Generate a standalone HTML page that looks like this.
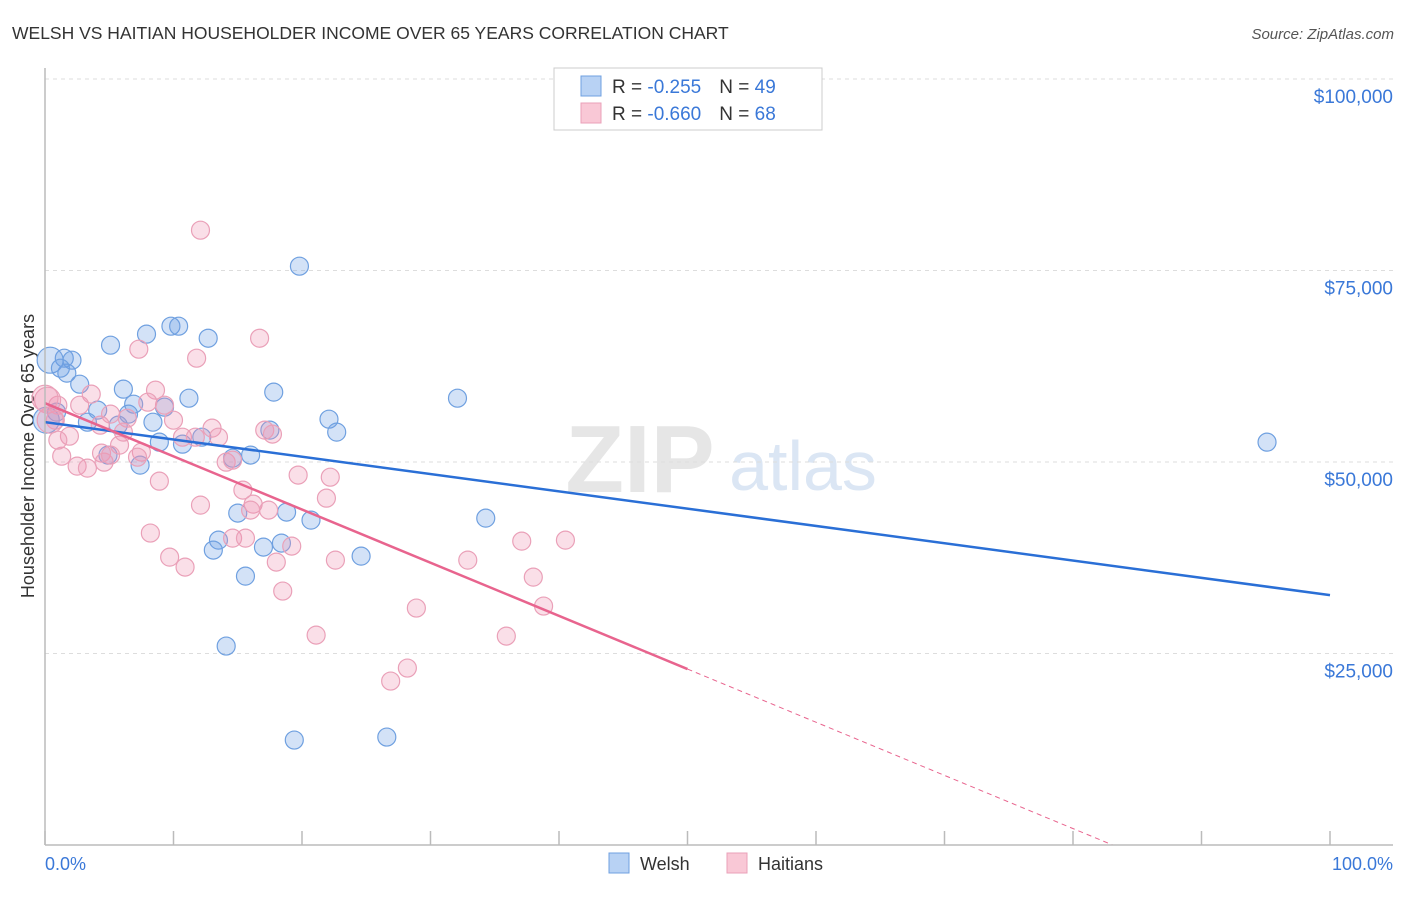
<!DOCTYPE html>
<html><head><meta charset="utf-8"><style>
body{margin:0;background:#fff;font-family:"Liberation Sans",sans-serif;}
svg text{font-family:"Liberation Sans",sans-serif;}
</style></head><body>
<svg id="c" width="1406" height="892">
<text x="12" y="39" font-size="17.5" fill="#333">WELSH VS HAITIAN HOUSEHOLDER INCOME OVER 65 YEARS CORRELATION CHART</text>
<text x="1394" y="39" font-size="15" fill="#555" font-style="italic" text-anchor="end">Source: ZipAtlas.com</text>
<text x="640" y="492" font-size="96" fill="#e6e6e6" font-family="Liberation Serif" font-weight="bold" text-anchor="middle">ZIP</text>
<text x="803" y="490" font-size="70" fill="#dbe6f4" text-anchor="middle">atlas</text>
<text transform="translate(34,456) rotate(-90)" font-size="18" fill="#333" text-anchor="middle">Householder Income Over 65 years</text>
<g id="grid"></g><g id="pts"></g><g id="trend"></g>
<line x1="45" y1="68" x2="45" y2="845" stroke="#bbb" stroke-width="1.5"/>
<line x1="45" y1="845" x2="1393" y2="845" stroke="#bbb" stroke-width="1.5"/>
<text x="45" y="870" font-size="18" fill="#3a78d8">0.0%</text>
<text x="1393" y="870" font-size="18" fill="#3a78d8" text-anchor="end">100.0%</text>
<g>
<rect x="554" y="68" width="268" height="62" fill="#fff" stroke="#ccc"/>
<rect x="581" y="76" width="20" height="20" fill="#b8d2f4" stroke="#6fa0e0"/>
<rect x="581" y="103" width="20" height="20" fill="#f9c8d6" stroke="#eaa0b8"/>
<text x="612" y="93" font-size="19" fill="#333">R = <tspan fill="#3a78d8">-0.255</tspan><tspan dx="18">N = </tspan><tspan fill="#3a78d8">49</tspan></text>
<text x="612" y="120" font-size="19" fill="#333">R = <tspan fill="#3a78d8">-0.660</tspan><tspan dx="18">N = </tspan><tspan fill="#3a78d8">68</tspan></text>
</g>
<g>
<rect x="609" y="853" width="20" height="20" fill="#b8d2f4" stroke="#6fa0e0"/>
<text x="640" y="870" font-size="18" fill="#333">Welsh</text>
<rect x="727" y="853" width="20" height="20" fill="#f9c8d6" stroke="#eaa0b8"/>
<text x="758" y="870" font-size="18" fill="#333">Haitians</text>
</g>
</svg>
<script>
const yTicks=[25000,50000,75000,100000];
const yTickLabels=["$25,000","$50,000","$75,000","$100,000"];
const welshX=[19.8,9.8,10.4,7.9,12.7,5.1,1.5,2.1,1.7,2.7,6.1,17.8,11.2,32.1,6.9,4.1,9.3,0.9,6.5,22.1,8.4,3.3,5.7,17.5,22.7,0.1,8.9,10.7,12.2,4.9,14.6,16.0,7.4,95.1,34.3,15.0,18.8,20.7,13.5,18.4,17.0,13.1,24.6,15.6,14.1,19.4,26.6,0.4,1.2];
const welshY=[75560,67730,67730,66690,66160,65250,63550,63290,61600,60160,59510,59120,58330,58330,57550,56770,57160,56510,56250,55590,55200,55200,54810,54160,53900,55460,52590,52330,53240,50900,50500,50900,49590,52590,42670,43330,43460,42410,39800,39410,38890,38500,37710,35100,25970,13700,14090,63290,62250];
const haitiX=[12.1,16.7,7.3,11.8,8.6,3.6,2.7,1.0,0.2,9.3,8.0,5.1,6.4,10.0,13.0,0.8,1.9,10.7,13.5,17.1,17.7,5.8,7.5,4.4,1.3,2.5,3.3,4.6,14.1,19.7,22.2,8.9,15.4,21.9,16.2,12.1,17.4,16.0,8.2,14.6,15.6,37.1,40.5,9.7,19.2,22.6,32.9,10.9,18.0,38.0,18.5,28.9,38.8,21.1,35.9,28.2,26.9,1.0,5.1,11.7,14.6,6.1,4.3,0.4,0.0,7.2];
const haitiY=[80260,66160,64730,63550,59380,58860,57420,57420,58070,57420,57810,56250,55720,55460,54420,55460,53370,53240,53240,54160,53640,52200,51290,51160,50760,49460,49200,49980,49980,48290,48020,47500,46330,45280,44500,44370,43720,43720,40720,40060,40060,39670,39800,37580,39020,37190,37190,36280,36930,34970,33150,30930,31190,27400,27270,23100,21400,52850,50900,53240,50240,53900,54810,55460,58330,50630];
const welshTrend=[55200,32620];
const haitiTrend=[57680,-11740];
const NS="http://www.w3.org/2000/svg";
const X=v=>45+v*12.85, Y=v=>845-v*191.5/25000;
function mk(t,a,p){const e=document.createElementNS(NS,t);for(const k in a)e.setAttribute(k,a[k]);p.appendChild(e);return e;}
const g=document.getElementById('grid');
yTicks.forEach((t,i)=>{
 const l=mk('line',{x1:45,x2:1393,y1:Y(t),y2:Y(t),stroke:'#ddd','stroke-dasharray':'4,4'},g);
 
 
 const tx=mk('text',{x:1393,y:Y(t)+24,'font-size':19,fill:'#3a78d8','text-anchor':'end'},g);
 tx.textContent=yTickLabels[i];
 
 
});
for(let i=0;i<=10;i++){
 const l=mk('line',{x1:X(i*10),x2:X(i*10),y1:831,y2:845,stroke:'#bbb','stroke-width':1.5},g);
 
 
}
const p=document.getElementById('pts');
function dots(xs,ys,fill,stroke,name){xs.forEach((x,i)=>{
 const big=(x<0.5);
 const c=mk('circle',{cx:X(x),cy:Y(ys[i]),r:big?13:9,fill:fill,stroke:stroke,'stroke-width':1.2},p);
 
 
});}
dots(welshX,welshY,'rgba(110,160,230,0.3)','#6fa0e0','welsh-point');
dots(haitiX,haitiY,'rgba(240,150,180,0.3)','#eaa0b8','haitian-point');
const tr=document.getElementById('trend');
const wl=mk('line',{x1:X(0),y1:Y(welshTrend[0]),x2:X(100),y2:Y(welshTrend[1]),stroke:'#2a6fd6','stroke-width':2.5},tr);


const hAt=x=>haitiTrend[0]+(haitiTrend[1]-haitiTrend[0])*x/100;
const hl=mk('line',{x1:X(0),y1:Y(hAt(0)),x2:X(50),y2:Y(hAt(50)),stroke:'#e8648e','stroke-width':2.5},tr);


const xz=haitiTrend[0]/(haitiTrend[0]-haitiTrend[1])*100;
const hd=mk('line',{x1:X(50),y1:Y(hAt(50)),x2:X(xz),y2:Y(0),stroke:'#e8648e','stroke-width':1,'stroke-dasharray':'5,4'},tr);


</script>
</body></html>
